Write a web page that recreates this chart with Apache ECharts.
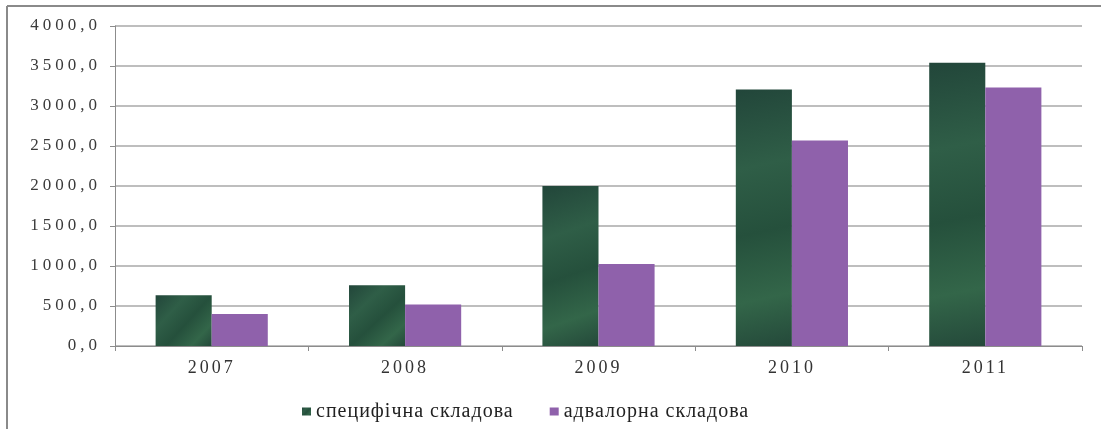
<!DOCTYPE html>
<html>
<head>
<meta charset="utf-8">
<script src="https://cdn.jsdelivr.net/npm/echarts@6/dist/echarts.min.js"></script>
<style>
  html, body { margin: 0; padding: 0; background: #ffffff; }
  #chart { width: 1101px; height: 429px; }
</style>
</head>
<body>
<div id="chart"></div>
<script>
// ---- data ----
var years = ['2007', '2008', '2009', '2010', '2011'];
var specificPart = [635, 760, 2000, 3205, 3540];
var advaloremPart = [400, 520, 1025, 2570, 3230];
var seriesNames = ['специфічна складова', 'адвалорна складова'];

// wide text spacing of the reference (serif labels look stretched)
(function () {
  var P = CanvasRenderingContext2D.prototype;
  if (!('letterSpacing' in P)) return;
  function ls(ctx) {
    var f = ctx.font || '';
    if (f.indexOf('Liberation Serif') < 0) { ctx.letterSpacing = '0px'; return; }
    if (/\b17px/.test(f)) ctx.letterSpacing = '4px';
    else if (/\b18px/.test(f)) ctx.letterSpacing = '3px';
    else if (/\b20px/.test(f)) ctx.letterSpacing = '1px';
    else ctx.letterSpacing = '0px';
  }
  ['fillText', 'strokeText', 'measureText'].forEach(function (n) {
    var o = P[n];
    P[n] = function () { ls(this); return o.apply(this, arguments); };
  });
})();

var chart = echarts.init(document.getElementById('chart'), null, { renderer: 'canvas' });
var serif = 'Liberation Serif';

chart.setOption({
  animation: false,
  backgroundColor: '#ffffff',
  grid: { left: 115, right: 19, top: 26, bottom: 83 },
  graphic: [
    { type: 'line', shape: { x1: 7, y1: 6, x2: 1101, y2: 6 }, style: { stroke: '#8a8a8a', lineWidth: 2 } },
    { type: 'line', shape: { x1: 7, y1: 6, x2: 7, y2: 429 }, style: { stroke: '#8a8a8a', lineWidth: 2 } }
  ],
  legend: {
    left: 297,
    top: 396,
    itemWidth: 9,
    itemHeight: 8,
    itemGap: 36,
    icon: 'rect',
    textStyle: { fontFamily: serif, fontSize: 20, color: '#222222', padding: [0, 0, 0, 0] },
    data: seriesNames
  },
  xAxis: {
    type: 'category',
    data: years,
    axisLine: { lineStyle: { color: '#8c8c8c', width: 1 } },
    axisTick: { show: true, length: 5, lineStyle: { color: '#8c8c8c' } },
    axisLabel: { fontFamily: serif, fontSize: 18, color: '#333333', margin: 12 }
  },
  yAxis: {
    type: 'value',
    min: 0,
    max: 4000,
    interval: 500,
    axisLine: { show: true, lineStyle: { color: '#8c8c8c', width: 1 } },
    axisTick: { show: true, length: 5, lineStyle: { color: '#8c8c8c' } },
    axisLabel: {
      fontFamily: serif, fontSize: 17, color: '#3a3a3a', margin: 14,
      formatter: function (v) { return v.toFixed(1).replace('.', ','); }
    },
    splitLine: { lineStyle: { color: '#a8a8a8', width: 1.5 } }
  },
  series: [
    {
      name: seriesNames[0],
      type: 'bar',
      data: specificPart,
      barGap: '0%',
      barCategoryGap: '42%',
      itemStyle: {
        color: new echarts.graphic.LinearGradient(0, 0, 1, 1, [
          { offset: 0, color: '#22463a' },
          { offset: 0.3, color: '#2f5e47' },
          { offset: 0.55, color: '#25503c' },
          { offset: 0.8, color: '#336649' },
          { offset: 1, color: '#24493a' }
        ])
      }
    },
    {
      name: seriesNames[1],
      type: 'bar',
      data: advaloremPart,
      itemStyle: { color: '#8f61ab' }
    }
  ]
});
</script>
</body>
</html>
